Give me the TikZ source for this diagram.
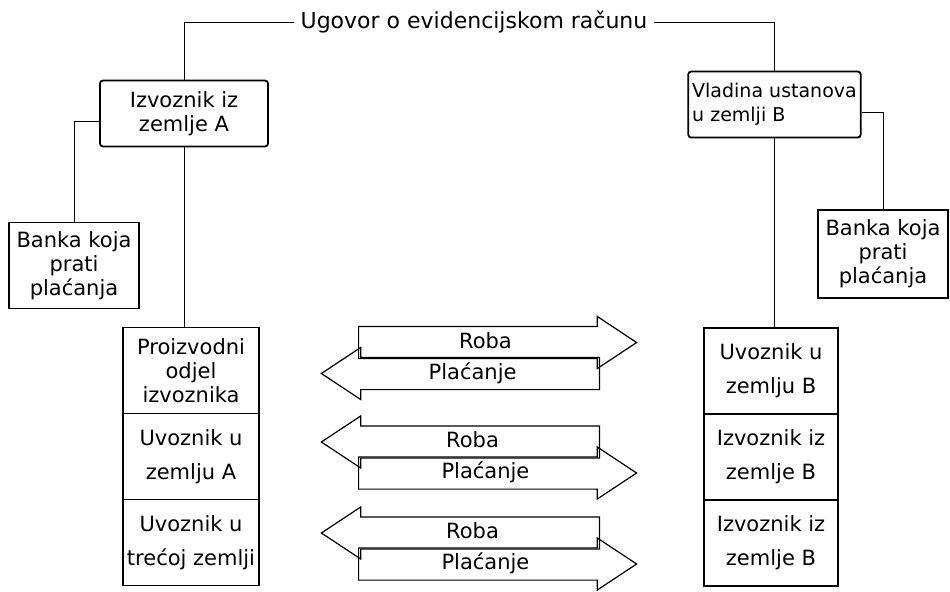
\documentclass[tikz,border=0pt]{standalone}
\usepackage{fontspec}
\setmainfont{DejaVu Sans}
\usepackage{tikz}
\usetikzlibrary{shapes.arrows, positioning}
\tikzstyle{party} = [rectangle, rounded corners=1.5pt, minimum width=84pt, minimum height=33pt, align=center, draw=black, line width=0.9pt, inner sep=2pt]
\tikzstyle{bank} = [rectangle, minimum width=65pt, minimum height=43pt, align=center, draw=black, line width=0.9pt, inner sep=2pt]
\tikzstyle{cell} = [rectangle, minimum width=68pt, minimum height=43pt, align=center, draw=black, line width=0.9pt, inner sep=2pt, outer sep=0pt]
\tikzstyle{flow} = [single arrow, draw=black, line width=0.6pt, minimum height=139pt, single arrow head extend=5pt, single arrow tip angle=67, text height=8pt, text depth=2.5pt, inner ysep=2.5pt, inner xsep=2pt]
\tikzstyle{link} = [line width=0.45pt]

\begin{document}
\begin{tikzpicture}[x=0.5pt, y=-0.5pt, font=\fontsize{10.5}{12}\selectfont]
                \useasboundingbox (0,0) rectangle (950,591);
                \node (contract) [font=\fontsize{11}{12}\selectfont] at (474,22) {Ugovor o evidencijskom računu};
                \node (expA) [party] at (184,113.5) {Izvoznik iz\\zemlje A};
                \node (govB) [party, minimum width=85.5pt, align=left, font=\fontsize{9.5}{12}\selectfont] at (774.5,104.5) {Vladina ustanova\\u zemlji B};
                \node (bankA) [bank] at (74,265.5) {Banka koja\\prati\\plaćanja};
                \node (bankB) [bank, minimum height=44pt] at (883,254) {Banka koja\\prati\\plaćanja};

                % stack of country A
                \node (prodA) [cell] at (191,370.5) {Proizvodni\\odjel\\izvoznika};
                \node (impA) [cell, below=0pt of prodA] {Uvoznik u\\[5pt]zemlju A};
                \node (impC) [cell, below=0pt of impA] {Uvoznik u\\[5pt]trećoj zemlji};

                % stack of country B
                \node (impB) [cell, minimum width=67pt] at (771,371) {Uvoznik u\\[5pt]zemlju B};
                \node (expB1) [cell, minimum width=67pt, below=0pt of impB] {Izvoznik iz\\[5pt]zemlje B};
                \node (expB2) [cell, minimum width=67pt, below=0pt of expB1] {Izvoznik iz\\[5pt]zemlje B};

                % goods and payments
                \node (goods1) [flow, anchor=tail] at (358,342.5) {Roba};
                \node (pay1) [flow, shape border rotate=180, anchor=tail] at (600,373.5) {Plaćanje};
                \node (goods2) [flow, shape border rotate=180, anchor=tail] at (600,442) {Roba};
                \node (pay2) [flow, anchor=tail] at (358,473) {Plaćanje};
                \node (goods3) [flow, shape border rotate=180, anchor=tail] at (600,533) {Roba};
                \node (pay3) [flow, anchor=tail] at (358,564) {Plaćanje};

                \draw [link] (contract.west) -| (expA.north);
                \draw [link] (contract.east) -| (govB.north);
                \draw [link] ([yshift=-4pt]expA.west) -| (bankA.north);
                \draw [link] ([yshift=-4pt]govB.east) -| (bankB.north);
                \draw [link] (expA.south) -- (expA.south |- prodA.north);
                \draw [link] (govB.south) -- (govB.south |- impB.north);
            \end{tikzpicture}
\end{document}
